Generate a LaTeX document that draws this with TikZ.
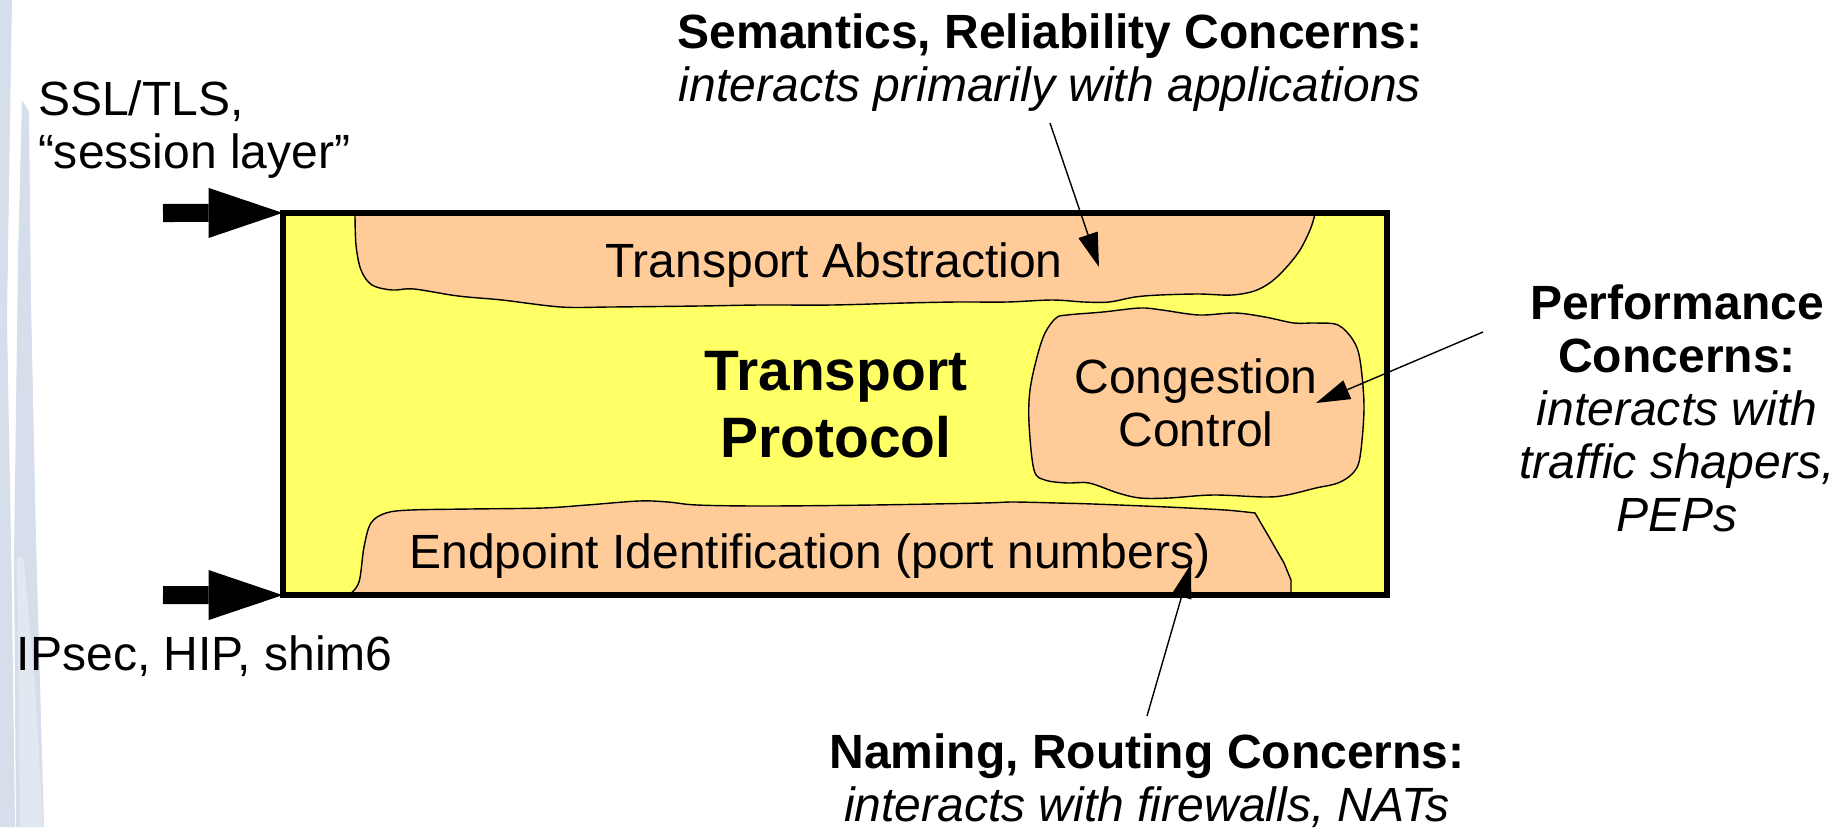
\documentclass[tikz,border=0pt]{standalone}
\usepackage{fontspec}
\setmainfont{Liberation Sans}
\usetikzlibrary{arrows.meta}

\definecolor{tpyellow}{HTML}{FFFF66}
\definecolor{blobfill}{HTML}{FFCC99}
\definecolor{slideblue}{HTML}{D5DEEA}

% centred and left-aligned line stacks whose baseline is the first line
\newcommand{\stacklines}[1]{\begin{tabular}[t]{@{}c@{}}#1\end{tabular}}
\newcommand{\stackleft}[1]{\begin{tabular}[t]{@{}l@{}}#1\end{tabular}}

\begin{document}
\begin{tikzpicture}[x=0.01cm, y=-0.01cm,
  txt/.style={inner sep=0pt, outer sep=0pt, anchor=base,
              font=\fontsize{13.66}{15.1}\selectfont},
  bigtxt/.style={inner sep=0pt, outer sep=0pt, anchor=base,
              font=\fontsize{16.2}{19.07}\selectfont\bfseries},
  blob/.style={fill=blobfill, draw=black, line width=0.4pt},
  callout/.style={line width=0.4pt, -{Triangle[length=0.34cm, width=0.2cm]}},
  blockarrow/.style={line width=0.18cm,
              -{Triangle[length=0.74cm, width=0.5cm, line width=0pt]}},
]
\useasboundingbox (0,0) rectangle (1848,827);

% slide backdrop streaks on the left edge
\fill[slideblue] (0,0) -- (12,0) -- (10,120) -- (7,320) -- (12,600) -- (15,827) -- (0,827) -- cycle;
\fill[slideblue] (22,100) -- (29,112) -- (31,300) -- (36,540) -- (44,827) -- (16,827) -- (14,560) -- (18,260) -- cycle;
\fill[slideblue!70] (17,556) -- (24,560) -- (36,700) -- (43,827) -- (20,827) -- cycle;

% the transport protocol box (fill first, border later)
\node[fill=tpyellow, inner sep=0pt, outer sep=0pt,
      minimum width=11.04cm, minimum height=3.82cm] (tp) at (835,404) {};

% transport abstraction region, hanging from the top edge
\filldraw[blob] plot[smooth, tension=0.55] coordinates {
  (355,214) (356,245) (361,270) (372,285) (392,290) (414,289) (458,296)
  (502,300) (561,307) (610,307) (700,306) (760,305) (832,305) (905,303)
  (957,302) (1007,302) (1052,300) (1084,302) (1109,302) (1135,297)
  (1160,295) (1199,294) (1232,295) (1257,290) (1277,277) (1298,253)
  (1310,230) (1315,214)} -- cycle;

% congestion control region
\filldraw[blob] plot[smooth cycle, tension=0.55] coordinates {
  (1056,318) (1067,315) (1103,312) (1140,308) (1162,310) (1199,315)
  (1235,313) (1265,317) (1294,323) (1316,323) (1338,325) (1353,340)
  (1360,360) (1364,407) (1360,457) (1353,473) (1338,483) (1316,488)
  (1287,495) (1265,497) (1213,495) (1169,498) (1140,498) (1118,493)
  (1089,483) (1067,483) (1045,480) (1034,470) (1029,423) (1030,390)
  (1037,357) (1045,333)};

% endpoint identification region, standing on the bottom edge
\filldraw[blob] plot[smooth, tension=0.55] coordinates {
  (349,595) (359,582) (364,547) (371,523) (386,513) (411,510) (470,509)
  (543,508) (587,505) (639,501) (668,502) (697,505) (763,506) (873,505)
  (983,503) (1013,502) (1057,503) (1093,504) (1167,507) (1225,510)
  (1255,513)} -- (1269,537) -- (1284,563) -- (1291,580) -- (1291,595) -- cycle;

% box border
\draw[line width=0.06cm] (tp.north west) rectangle (tp.south east);

% labels inside the box
\node[bigtxt] (tpl) at (836,390) {\stacklines{Transport\\Protocol}};
\node[txt] (abs) at (834,277) {Transport Abstraction};
\node[txt] (cc) at (1196,393) {\stacklines{Congestion\\Control}};
\node[txt] (ep) at (810,568) {Endpoint Identification (port numbers)};

% layers above and below
\node[txt, anchor=base west] (ssl) at (38,115) {\stackleft{SSL/TLS,\\“session layer”}};
\node[txt, anchor=base west] (ipsec) at (17,670) {IPsec, HIP, shim6};

\coordinate (sslIn) at (163,213);
\coordinate (ipIn) at (163,595);
\draw[blockarrow] (sslIn) -- (tp.north west);
\draw[blockarrow] (ipIn) -- (tp.south west);

% concerns around the box
\node[txt] (sem) at (1050,48) {\stacklines{\textbf{Semantics, Reliability Concerns:}\\\textit{interacts primarily with applications}}};
\node[txt] (perf) at (1677,319) {\stacklines{\textbf{Performance}\\\textbf{Concerns:}\\\textit{interacts with}\\\textit{traffic shapers,}\\\textit{PEPs}}};
\node[txt] (nam) at (1147,768) {\stacklines{\textbf{Naming, Routing Concerns:}\\\textit{interacts with firewalls, NATs}}};

\coordinate (semTail) at (1050,123);
\coordinate (semTip) at (1099,267);
\coordinate (perfTail) at (1483,332);
\coordinate (perfTip) at (1316,403);
\coordinate (namTail) at (1147,716);
\coordinate (namTip) at (1191,564);
\draw[callout] (semTail) -- (semTip);
\draw[callout] (perfTail) -- (perfTip);
\draw[callout] (namTail) -- (namTip);
\end{tikzpicture}
\end{document}
